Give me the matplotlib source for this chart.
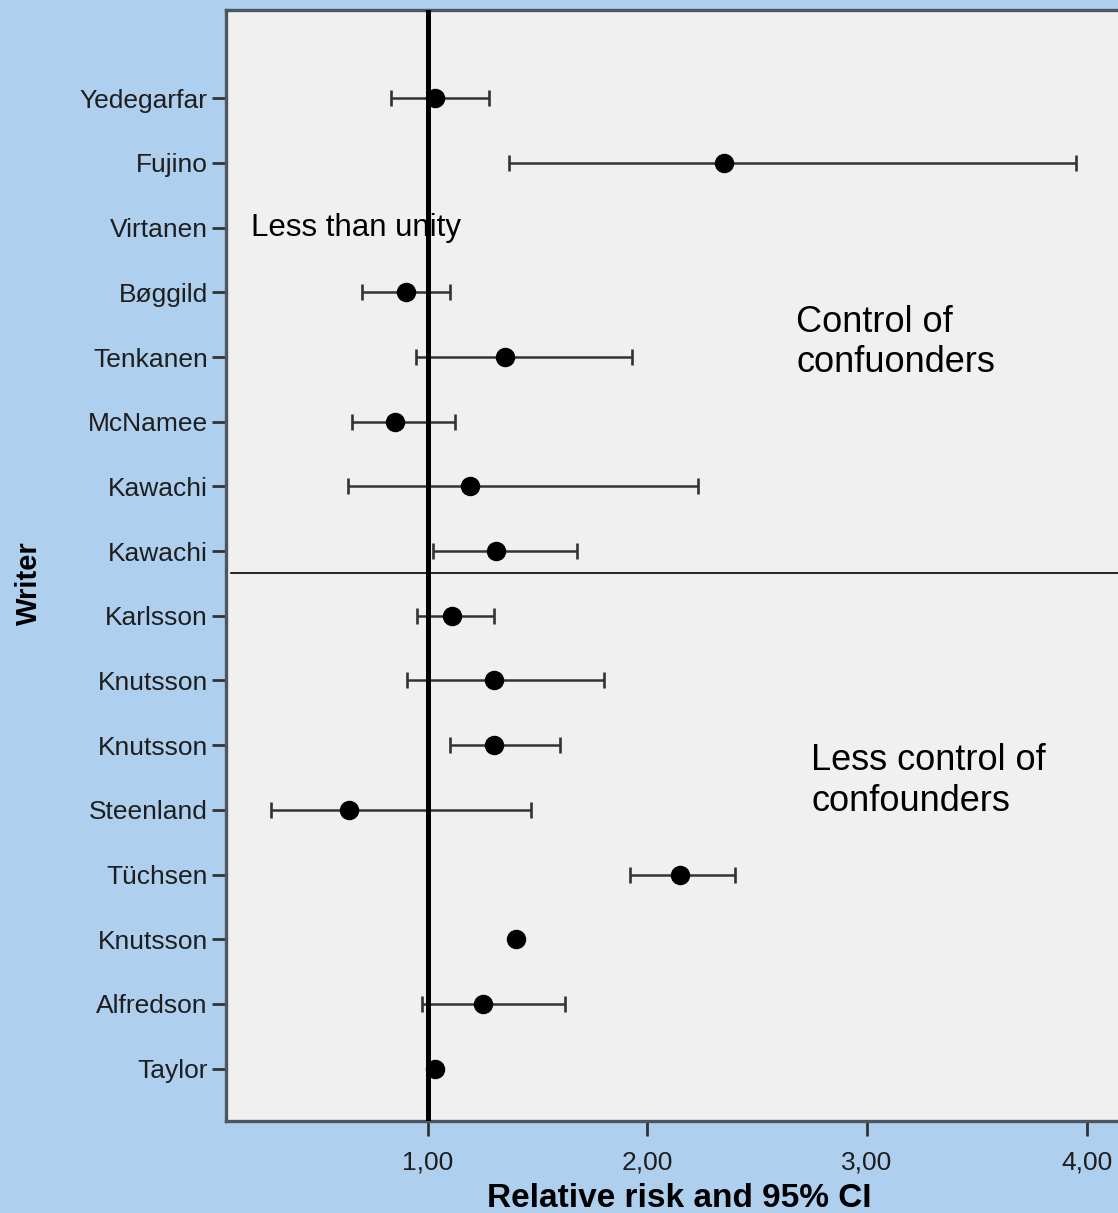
import numpy as np
import matplotlib.pyplot as plt
from matplotlib.ticker import FuncFormatter

# studies, top to bottom
writers = ["Yedegarfar", "Fujino", "Virtanen", "Bøggild", "Tenkanen", "McNamee",
           "Kawachi", "Kawachi", "Karlsson", "Knutsson", "Knutsson", "Steenland",
           "Tüchsen", "Knutsson", "Alfredson", "Taylor"]
nan = np.nan
rr = [1.03, 2.35, nan, 0.90, 1.35, 0.85, 1.19, 1.31,
      1.11, 1.30, 1.30, 0.64, 2.15, 1.40, 1.25, 1.03]
ci_low = [0.83, 1.37, nan, 0.70, 0.945, 0.655, 0.635, 1.025,
          0.95, 0.905, 1.10, 0.285, 1.92, nan, 0.975, nan]
ci_high = [1.28, 3.95, nan, 1.10, 1.93, 1.125, 2.23, 1.68,
           1.30, 1.80, 1.60, 1.47, 2.40, nan, 1.625, nan]
x_ticks = [1, 2, 3, 4]
unity = 1.0
split_after = 7  # last study with control of confounders

plt.rcParams['font.family'] = ['Liberation Sans', 'DejaVu Sans']

fig = plt.figure(figsize=(11.18, 12.13), dpi=100, facecolor='#aed0ee')
ax = fig.add_axes([0.2021, 0.0758, 0.7979, 0.916])
ax.set_facecolor('#f0f0f0')

y = np.arange(len(writers))
rr = np.array(rr)
lo = np.array(ci_low)
hi = np.array(ci_high)
has_ci = ~np.isnan(lo)

ax.errorbar(rr[has_ci], y[has_ci],
            xerr=[rr[has_ci] - lo[has_ci], hi[has_ci] - rr[has_ci]],
            fmt='none', ecolor='#333333', elinewidth=1.8, capsize=6,
            capthick=1.9, zorder=2)
ax.plot(rr, y, 'o', color='black', markersize=13, zorder=4)

ax.axvline(unity, color='black', lw=3.6, zorder=3)
ax.axhline(split_after + 0.34, xmin=0.006, color='black', lw=1.2, zorder=1)

ax.set_xlim(0.08, 4.143)
ax.set_ylim(len(writers) - 1 + 0.81, -1.365)
ax.set_yticks(y)
ax.set_yticklabels(writers)
ax.set_xticks(x_ticks)
ax.xaxis.set_major_formatter(FuncFormatter(lambda v, p: f"{v:.2f}".replace('.', ',')))

ax.tick_params(axis='y', length=10, width=2, color='#333333', pad=3,
               labelsize=19, labelcolor='#1e1e1e')
ax.tick_params(axis='x', length=11, width=2, color='#333333', pad=10,
               labelsize=19, labelcolor='#1e1e1e')

for side in ['left', 'top', 'bottom']:
    ax.spines[side].set_color('#4c5660')
    ax.spines[side].set_linewidth(2.4)
ax.spines['right'].set_visible(False)

ax.set_xlabel("Relative risk and 95% CI", fontsize=24, fontweight='bold')
ax.xaxis.set_label_coords(0.508, -0.0555)
ax.set_ylabel("Writer", fontsize=21, fontweight='bold', va='center', ha='center')
ax.yaxis.set_label_coords(-0.221, 0.484)

ax.text(0.194, 2, "Less than unity", fontsize=22.5, va='center', ha='left')
ax.text(2.677, 3.19, "Control of\nconfuonders", fontsize=26, va='top',
        ha='left', linespacing=1.2)
ax.text(2.745, 9.97, "Less control of\nconfounders", fontsize=26, va='top',
        ha='left', linespacing=1.2)

fig.savefig("out.png", dpi=100, facecolor=fig.get_facecolor())
